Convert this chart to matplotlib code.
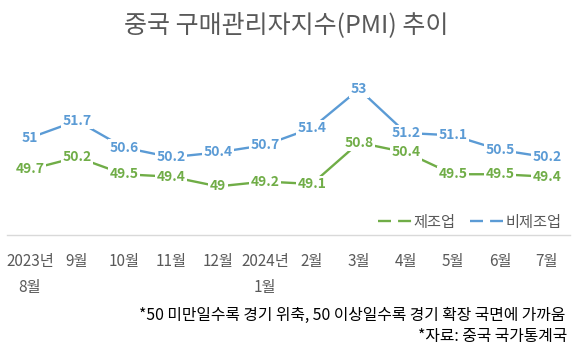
import numpy as np
import matplotlib
matplotlib.use("Agg")
import matplotlib.pyplot as plt
from matplotlib.lines import Line2D

plt.rcParams['font.family'] = ['Noto Sans CJK KR', 'DejaVu Sans']

months = ['2023년\n8월', '9월', '10월', '11월', '12월', '2024년\n1월',
          '2월', '3월', '4월', '5월', '6월', '7월']
manufacturing = [49.7, 50.2, 49.5, 49.4, 49, 49.2, 49.1, 50.8, 50.4, 49.5, 49.5, 49.4]
non_manufacturing = [51, 51.7, 50.6, 50.2, 50.4, 50.7, 51.4, 53, 51.2, 51.1, 50.5, 50.2]

green = '#70AD47'
blue = '#5B9BD5'
gray = '#595959'

fig = plt.figure(figsize=(5.77, 3.47), dpi=100)
ax = fig.add_axes([0.0113, 0.3228, 0.9774, 0.5602])
x = np.arange(len(months))

ax.plot(x, manufacturing, color=green, lw=1.7, zorder=2)
ax.plot(x, non_manufacturing, color=blue, lw=1.7, zorder=2)

for xi, v in zip(x, manufacturing):
    ax.text(xi, v, f'{v:g}', ha='center', va='center', fontsize=10, fontweight='bold',
            color=green, zorder=3,
            bbox=dict(facecolor='white', edgecolor='none', pad=1.0))
for xi, v in zip(x, non_manufacturing):
    ax.text(xi, v, f'{v:g}', ha='center', va='center', fontsize=10, fontweight='bold',
            color=blue, zorder=3,
            bbox=dict(facecolor='white', edgecolor='none', pad=1.0))

ax.set_xlim(-0.5, len(months) - 0.5)
ax.set_ylim(47, 55)
ax.set_xticks(x)
ax.set_xticklabels(months, fontsize=11, color=gray, linespacing=1.7)
ax.tick_params(axis='x', length=0, pad=13)
ax.set_yticks([])
for s in ['top', 'left', 'right']:
    ax.spines[s].set_visible(False)
ax.spines['bottom'].set_color('#D9D9D9')
ax.spines['bottom'].set_linewidth(1)

handles = [Line2D([], [], color=green, lw=1.7, ls=(0, (5.5, 3))),
           Line2D([], [], color=blue, lw=1.7, ls=(0, (5.5, 3)))]
leg = ax.legend(handles, ['제조업', '비제조업'], loc='lower right', ncol=2,
                frameon=False, fontsize=11, handlelength=2.2, handletextpad=0.15,
                columnspacing=0.9, borderaxespad=0.0, bbox_to_anchor=(0.995, -0.01))
for t in leg.get_texts():
    t.set_color(gray)

fig.text(0.496, 1 - 25 / 347, '중국 구매관리자지수(PMI) 추이', ha='center', va='center',
         fontsize=18, color=gray)
fig.text(565 / 577, 1 - 315 / 347, '*50 미만일수록 경기 위축, 50 이상일수록 경기 확장 국면에 가까움',
         ha='right', va='center', fontsize=11.4, color='black')
fig.text(567 / 577, 1 - 337 / 347, '*자료: 중국 국가통계국',
         ha='right', va='center', fontsize=11.4, color='black')

fig.savefig('out.png', dpi=100)
